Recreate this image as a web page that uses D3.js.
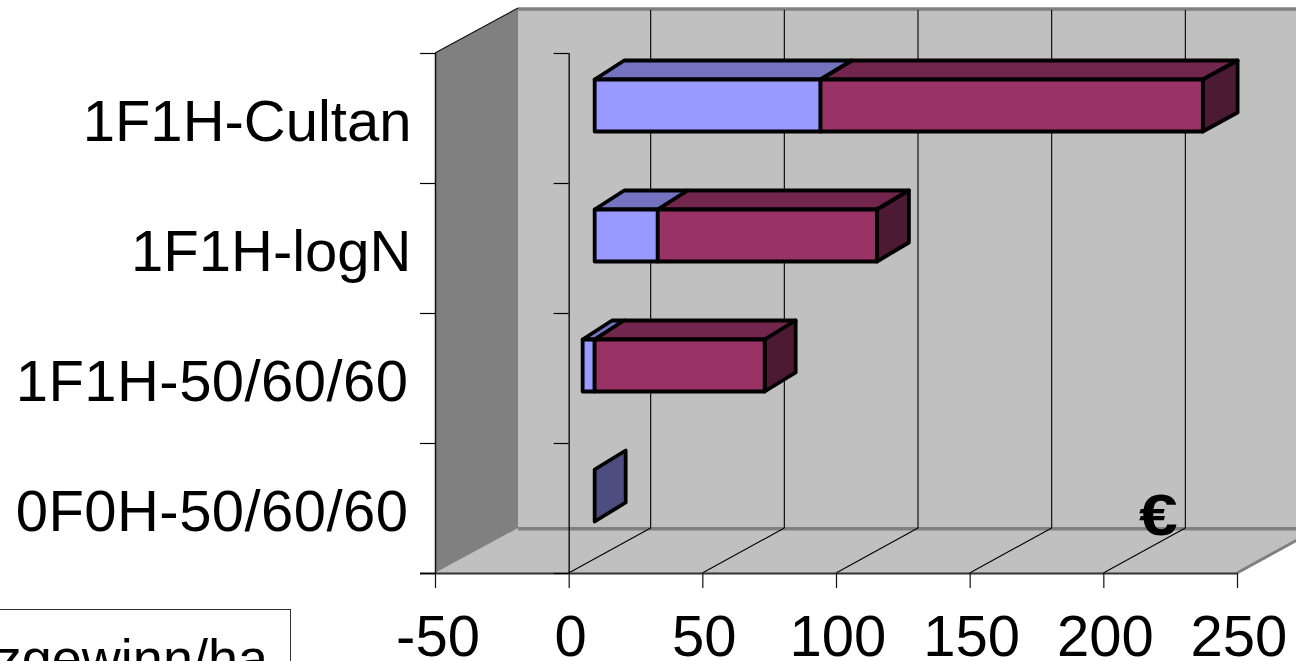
<!DOCTYPE html>
<html><head><meta charset="utf-8">
<script src="https://cdn.jsdelivr.net/npm/d3@7/dist/d3.min.js"></script>
<style>html,body{margin:0;padding:0;background:#fff;overflow:hidden}svg{display:block}text{font-family:"Liberation Sans",Arial,sans-serif;fill:#000}</style>
</head><body><svg id="c" width="1296" height="661"></svg>
<script>
const categories = ["1F1H-Cultan","1F1H-logN","1F1H-50/60/60","0F0H-50/60/60"];
const seriesNames = ["blue","maroon"];
const blueValues = [84.5,23.6,-4.5,0];
const maroonValues = [143,82,63.6,0];
const xTicks = [-50,0,50,100,150,200,250];
const legendText = "Netzgewinn/ha";
const unitText = "€";

const colors = {blue:{front:"#9999FF",top:"#7373BF",side:"#4D4D80"},maroon:{front:"#993366",top:"#73264D",side:"#4D1A33"}};
const svg = d3.select("#c");
const x = d3.scaleLinear().domain([-50,250]).range([435,1237]);
const wallDx = 82, wallDy = 45, barOffset = 26;
const yTop = 53, yBot = 573;
const yAxis = d3.scaleBand().domain(categories).range([yTop,yBot]);
const yBar = d3.scaleBand().domain(categories).range([40,560]).paddingInner(0.6).paddingOuter(0.3);
const barX = v => x(v)+barOffset;
const barDy = 19, dxOf = v => 29.5+0.023*v;
const poly = pts => pts.map(p=>p.join(",")).join(" ");

// walls
svg.append("polygon").attr("points",poly([[x(-50)+wallDx,yTop-wallDy],[1296+wallDx,yTop-wallDy],[1296+wallDx,yBot-wallDy],[x(-50)+wallDx,yBot-wallDy]])).attr("fill","#C0C0C0");
svg.append("polygon").attr("points",poly([[x(-50),yBot],[x(250),yBot],[x(250)+wallDx,yBot-wallDy],[x(-50)+wallDx,yBot-wallDy]])).attr("fill","#C0C0C0");
svg.append("polygon").attr("points",poly([[x(-50),yTop],[x(-50)+wallDx+1,yTop-wallDy],[x(-50)+wallDx+1,yBot-wallDy],[x(-50),yBot]])).attr("fill","#808080");
const edge=(a,b,s,w)=>svg.append("line").attr("x1",a[0]).attr("y1",a[1]).attr("x2",b[0]).attr("y2",b[1]).attr("stroke",s).attr("stroke-width",w);
edge([x(-50)+wallDx+1,yTop-wallDy+1],[1296,yTop-wallDy+1],"#808080",3.5);
edge([x(-50)+wallDx+1,yBot-wallDy+.7],[1296,yBot-wallDy+.7],"#808080",3.5);
edge([x(250),yBot],[x(250)+wallDx,yBot-wallDy],"#808080",3);
edge([x(-50),yTop],[x(-50)+wallDx+1,yTop-wallDy],"#111",1.2);

// gridlines
xTicks.slice(1,-1).forEach(t=>{
  edge([x(t)+wallDx,yTop-wallDy+2],[x(t)+wallDx,yBot-wallDy],"#000",1.1);
});
xTicks.slice(1,-1).forEach(t=>{
  edge([x(t),yBot],[x(t)+wallDx,yBot-wallDy],"#000",1.1);
});

// axes
edge([420,yBot+.5],[x(250),yBot+.5],"#333",2);
xTicks.forEach(t=>edge([x(t)+.5,yBot],[x(t)+.5,yBot+15],"#111",1.2));
edge([x(-50)+.5,yTop],[x(-50)+.5,yBot],"#111",1.5);
edge([x(0)+.5,yTop],[x(0)+.5,yBot],"#000",1.3);
const catTicks = categories.map(c=>yAxis(c)).concat([yBot]);
catTicks.forEach(y=>{
  edge([420,y+.5],[x(-50),y+.5],"#000",1.2);
  edge([x(0)-15,y+.5],[x(0),y+.5],"#000",1.2);
});

// bars
const rows = categories.map((c,i)=>({cat:c,blue:blueValues[i],maroon:maroonValues[i]}));
const stacked = d3.stack().keys(seriesNames).offset(d3.stackOffsetDiverging)(rows);
const segs=[];
stacked.forEach(s=>s.forEach(d=>{
  const a=Math.min(d[0],d[1]),b=Math.max(d[0],d[1]);
  segs.push({key:s.key,cat:d.data.cat,a,b});
}));
const stroke={stroke:"#000","stroke-width":3.8,"stroke-linejoin":"round"};
const face=(g,pts,fill)=>{const p=g.append("polygon").attr("points",poly(pts)).attr("fill",fill);Object.entries(stroke).forEach(([k,v])=>p.attr(k,v));};
categories.slice().reverse().forEach(cat=>{
  const g=svg.append("g");
  const list=segs.filter(s=>s.cat===cat).sort((p,q)=>p.a-q.a);
  const y0=yBar(cat)+.5,y1=y0+yBar.bandwidth();
  const nonEmpty=list.filter(s=>s.b>s.a);
  if(!nonEmpty.length){
    const v=0,k=barX(v),d=dxOf(v)+1.5;
    face(g,[[k,y0],[k+d,y0-barDy],[k+d,y1-barDy],[k,y1]],colors.blue.side);
    return;
  }
  nonEmpty.forEach(s=>{
    const c=colors[s.key],l=barX(s.a),r=barX(s.b);
    face(g,[[l,y0],[r,y0],[r+dxOf(s.b),y0-barDy],[l+dxOf(s.a),y0-barDy]],c.top);
  });
  const last=nonEmpty[nonEmpty.length-1],e=barX(last.b),de=dxOf(last.b);
  face(g,[[e,y0],[e+de,y0-barDy],[e+de,y1-barDy],[e,y1]],colors[last.key].side);
  nonEmpty.forEach(s=>{
    const c=colors[s.key],l=barX(s.a),r=barX(s.b);
    face(g,[[l,y0],[r,y0],[r,y1],[l,y1]],c.front);
  });
});

// labels
const fs=58;
svg.selectAll(".xl").data(xTicks).join("text").attr("class","xl")
  .attr("x",d=>x(d)+(d<0?3:2)).attr("y",656).attr("text-anchor","middle").attr("font-size",fs).text(d=>d);
svg.selectAll(".cl").data(categories).join("text").attr("class","cl")
  .attr("x",c=>c.includes("/")?408.5:411.5).attr("y",c=>yAxis(c)+yAxis.bandwidth()/2+23)
  .attr("text-anchor","end").attr("font-size",fs)
  .attr("letter-spacing",c=>c.includes("/")?0.45:0).text(c=>c);
svg.append("text").attr("transform","translate(1139,535) scale(1.2,1)").attr("font-size",58).attr("font-weight","bold").text(unitText);

// legend box
svg.append("rect").attr("x",-10).attr("y",609.5).attr("width",300.5).attr("height",80).attr("fill","#fff").attr("stroke","#333").attr("stroke-width",1);
svg.append("text").attr("x",268).attr("y",677).attr("text-anchor","end").attr("font-size",54).text(legendText);
</script></body></html>
